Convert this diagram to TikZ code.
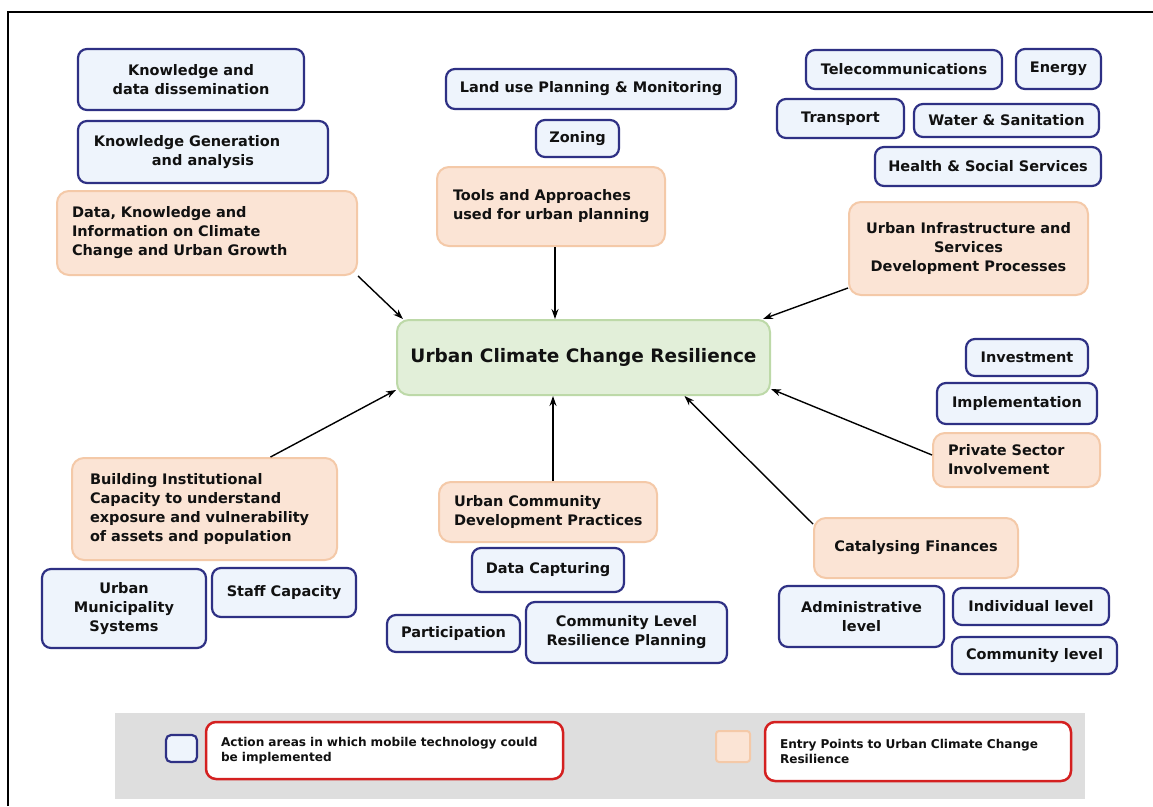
\documentclass[tikz,border=0pt]{standalone}
\usepackage{fontspec}
\setmainfont{DejaVu Sans}
\usetikzlibrary{arrows.meta}
\definecolor{navy}{HTML}{2E3084}
\definecolor{bluefill}{HTML}{EEF4FC}
\definecolor{orfill}{HTML}{FBE4D5}
\definecolor{ordraw}{HTML}{F4C9A8}
\definecolor{grfill}{HTML}{E2EFD9}
\definecolor{grdraw}{HTML}{BDD9A8}
\definecolor{legbg}{HTML}{DEDEDE}
\definecolor{legred}{HTML}{D42020}
\definecolor{ink}{HTML}{111111}
\begin{document}
\begin{tikzpicture}[x=1pt,y=-1pt,
  box/.style={rounded corners=9pt, inner sep=0pt, align=center, text=ink,
    font=\fontsize{14.5}{19}\selectfont\bfseries},
  action/.style={box, draw=navy, fill=bluefill, line width=2.2pt},
  entry/.style={box, draw=ordraw, fill=orfill, line width=2pt, rounded corners=12pt},
  core/.style={box, draw=grdraw, fill=grfill, line width=2pt, rounded corners=12pt,
    font=\fontsize{18.5}{22}\selectfont\bfseries},
  link/.style={-{Stealth[length=10pt,width=7pt]}, line width=1.4pt, black},
  legbox/.style={draw=legred, fill=white, line width=2.5pt, rounded corners=10pt,
    inner sep=0pt, align=left, text=ink, font=\fontsize{12.1}{15.5}\selectfont\bfseries},
  sz/.style 2 args={minimum width=#1pt, minimum height=#2pt}
]
\useasboundingbox (0,0) rectangle (1153,806);
\fill[white] (0,0) rectangle (1153,806);
\draw[line width=2.5pt] (8,806) -- (8,12) -- (1153,12);

% top-left cluster
\node[action, sz={226}{61}] (kdd) at (191,79.5) {Knowledge and\\data dissemination};
\node[action, sz={250}{62}] (kga) at (203,152) {\mbox{Knowledge Generation}\hspace*{32pt}\\and analysis};
\node[entry, minimum height=84pt, text width=270pt, inner xsep=15pt, align=left] (dki) at (207,233)
  {\mbox{Data, Knowledge and}\\\mbox{Information on Climate}\\\mbox{Change and Urban Growth}};

% top-middle cluster
\node[action, sz={290}{40}] (land) at (591,89) {Land use Planning \& Monitoring};
\node[action, sz={83}{37}] (zon) at (577.5,138.5) {Zoning};
\node[entry, minimum height=79pt, text width=196pt, inner xsep=16pt, align=left] (tools) at (551,206.5)
  {\mbox{Tools and Approaches}\\\mbox{used for urban planning}};

% top-right cluster
\node[action, sz={196}{39}] (tele) at (904,69.5) {Telecommunications};
\node[action, sz={85}{40}] (energy) at (1058.5,69) {Energy};
\node[action, sz={127}{39}] (trans) at (840.5,118.5) {Transport};
\node[action, sz={185}{33}] (water) at (1006.5,120.5) {Water \& Sanitation};
\node[action, sz={226}{39}] (health) at (988,166.5) {Health \& Social Services};
\node[entry, sz={239}{93}] (infra) at (968.5,248.5) {Urban Infrastructure and\\Services\\Development Processes};

% centre
\node[core, sz={373}{75}] (ucc) at (583.5,357.5) {Urban Climate Change Resilience};

% right cluster
\node[action, sz={122}{37}] (invest) at (1027,357.5) {Investment};
\node[action, sz={160}{41}] (impl) at (1017,403.5) {Implementation};
\node[entry, minimum height=54pt, text width=137pt, inner xsep=15pt, align=left] (priv) at (1016.5,460)
  {\mbox{Private Sector}\\\mbox{Involvement}};

% bottom-right cluster
\node[entry, sz={204}{60}] (cat) at (916,548) {Catalysing Finances};
\node[action, sz={165}{61}] (adm) at (861.5,616.5) {Administrative\\level};
\node[action, sz={156}{37}] (indiv) at (1031,606.5) {Individual level};
\node[action, sz={165}{37}] (comlev) at (1034.5,655.5) {Community level};

% bottom-middle cluster
\node[entry, minimum height=60pt, text width=188pt, inner xsep=15pt, align=left] (ucomm) at (548,512)
  {\mbox{Urban Community}\\\mbox{Development Practices}};
\node[action, sz={152}{44}] (datacap) at (548,570) {Data Capturing};
\node[action, sz={133}{37}] (part) at (453.5,633.5) {Participation};
\node[action, sz={201}{61}] (clrp) at (626.5,632.5) {Community Level\\Resilience Planning};

% bottom-left cluster
\node[entry, minimum height=102pt, text width=229pt, inner xsep=18pt, align=left] (build) at (204.5,509)
  {\mbox{Building Institutional}\\\mbox{Capacity to understand}\\\mbox{exposure and vulnerability}\\\mbox{of assets and population}};
\node[action, sz={164}{79}] (ums) at (124,608.5) {Urban\\Municipality\\Systems};
\node[action, sz={144}{49}] (staff) at (284,592.5) {Staff Capacity};

% connectors
\draw[link] (dki.south east) -- ([xshift=7pt]ucc.north west);
\draw[link] ([xshift=4pt]tools.south) -- ([xshift=4pt]tools.south |- ucc.north);
\draw[link] ([yshift=8pt]infra.south west) -- ([xshift=-8pt]ucc.north east);
\draw[link] ([yshift=5pt]priv.west) -- ([yshift=7pt]ucc.south east);
\draw[link] ([yshift=-7pt]cat.north west) -- ([xshift=101pt]ucc.south);
\draw[link] ([xshift=5pt]ucomm.north) -- ([xshift=5pt]ucomm.north |- ucc.south);
\draw[link] ([xshift=66pt]build.north) -- ([yshift=6pt]ucc.south west);

% legend
\node[fill=legbg, minimum width=970pt, minimum height=86pt, inner sep=0pt] (legend) at (600,756) {};
\node[draw=navy, fill=bluefill, line width=2.2pt, rounded corners=5pt, sz={31}{27}] (keyblue) at (181.5,748.5) {};
\node[legbox, minimum height=57pt, text width=327pt, inner xsep=15pt] (keyactiontext) at (384.5,750.5)
  {\mbox{Action areas in which mobile technology could}\\\mbox{be implemented}};
\node[draw=ordraw, fill=orfill, line width=2pt, rounded corners=3pt, sz={34}{31}] (keyorange) at (733,746.5) {};
\node[legbox, minimum height=59pt, text width=276pt, inner xsep=15pt] (keyentrytext) at (918,751.5)
  {\mbox{Entry Points to Urban Climate Change}\\\mbox{Resilience}};
\end{tikzpicture}
\end{document}
